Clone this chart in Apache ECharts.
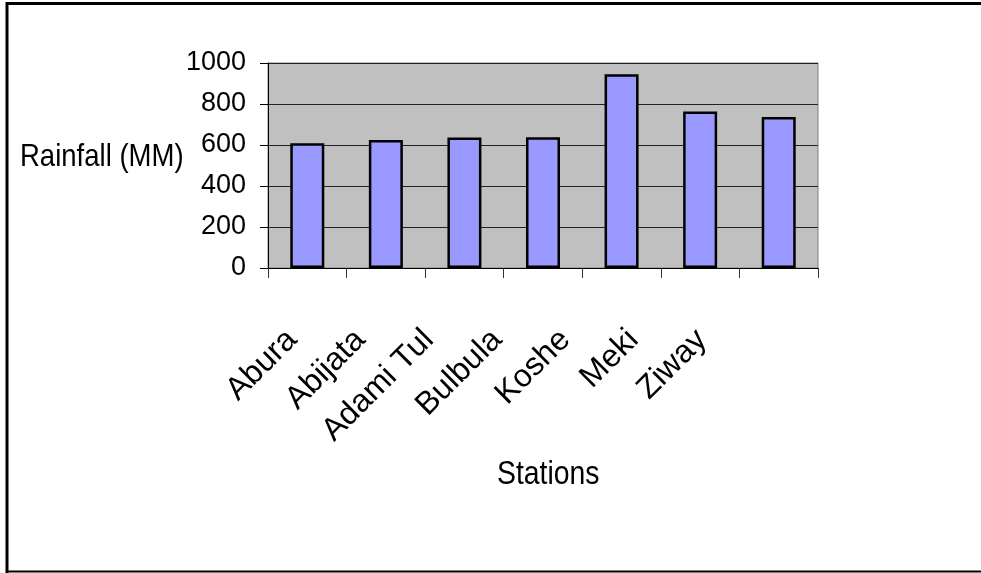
<!DOCTYPE html>
<html>
<head>
<meta charset="utf-8">
<script src="https://cdn.jsdelivr.net/npm/echarts@6/dist/echarts.min.js"></script>
<style>
  html, body { margin: 0; padding: 0; background: #fff; }
  #chart { width: 981px; height: 573px; }
</style>
</head>
<body>
<div id="chart"></div>
<script>
const stations = ['Abura', 'Abijata', 'Adami Tulu', 'Bulbula', 'Koshe', 'Meki', 'Ziway'];
const rainfall = [608, 624, 637, 638, 945, 764, 736];
const yTicks = [0, 200, 400, 600, 800, 1000];

const FONT = '"Liberation Sans", Arial, sans-serif';

const chart = echarts.init(document.getElementById('chart'));

const option = {
  animation: false,
  backgroundColor: '#fff',
  textStyle: { fontFamily: FONT },
  graphic: [
    { type: 'line', shape: { x1: 6, y1: 3.5, x2: 981, y2: 3.5 }, style: { stroke: '#000', lineWidth: 3 } },
    { type: 'line', shape: { x1: 7, y1: 2, x2: 7, y2: 573 }, style: { stroke: '#000', lineWidth: 3 } },
    { type: 'line', shape: { x1: 6, y1: 571.5, x2: 981, y2: 571.5 }, style: { stroke: '#000', lineWidth: 2 } },
    {
      type: 'text', x: 20, y: 157, scaleX: 0.86,
      style: { text: 'Rainfall (MM)', font: '32px ' + FONT, fill: '#000', verticalAlign: 'middle' }
    },
    {
      type: 'text', x: 497, y: 475, scaleX: 0.86,
      style: { text: 'Stations', font: '33px ' + FONT, fill: '#000', verticalAlign: 'middle' }
    }
  ],
  grid: [
    {
      left: 268, right: 163, top: 63, bottom: 305,
      show: true, backgroundColor: '#c0c0c0', borderColor: '#808080', borderWidth: 1
    },
    // label-only grid: category labels are spaced tighter than the bars
    { left: 258, right: 245, top: 63, bottom: 305 }
  ],
  xAxis: [
    {
      type: 'category',
      gridIndex: 0,
      data: stations,
      axisLine: { lineStyle: { color: '#000', width: 1 } },
      axisTick: { show: true, length: 10, lineStyle: { color: '#333' } },
      axisLabel: { show: false },
      splitLine: { show: false }
    },
    {
      type: 'category',
      gridIndex: 1,
      data: stations,
      axisLine: { show: false },
      axisTick: { show: false },
      axisLabel: {
        rotate: 45, margin: 67, fontSize: 32, color: '#000', fontFamily: FONT,
        width: 146, overflow: 'truncate', ellipsis: '', interval: 0
      },
      splitLine: { show: false }
    }
  ],
  yAxis: [
    {
      type: 'value',
      gridIndex: 0,
      min: 0, max: 1000, interval: 200,
      axisLine: { show: true, lineStyle: { color: '#000', width: 1 } },
      axisTick: { show: true, length: 8, lineStyle: { color: '#000' } },
      axisLabel: {
        margin: 22, fontSize: 27, color: '#000', fontFamily: FONT,
        formatter: function (v) { return yTicks.indexOf(v) >= 0 ? String(v) : ''; }
      },
      splitLine: { show: true, lineStyle: { color: '#222', width: 1 } }
    },
    {
      type: 'value',
      gridIndex: 1,
      show: false
    }
  ],
  series: [{
    type: 'bar',
    xAxisIndex: 0,
    yAxisIndex: 0,
    data: rainfall,
    barWidth: 34,
    itemStyle: { color: '#9999ff', borderColor: '#000', borderWidth: 2.5 }
  }]
};

chart.setOption(option);
</script>
</body>
</html>
